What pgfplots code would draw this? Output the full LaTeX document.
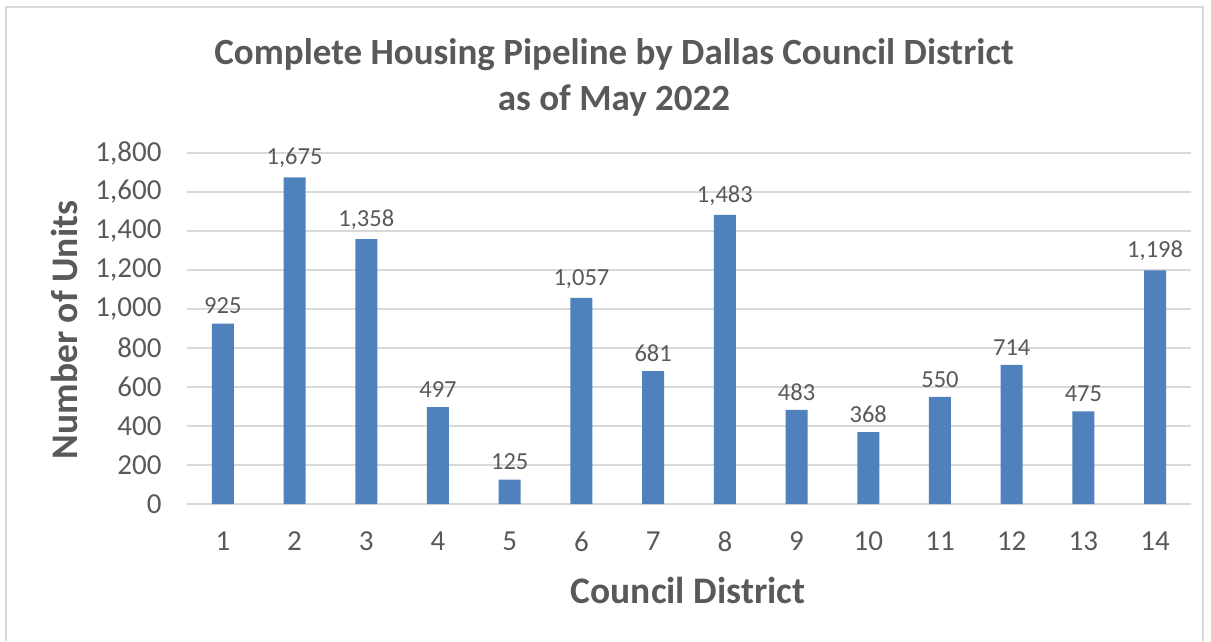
\documentclass[border=0pt]{standalone}
\usepackage{pgfplots}
\pgfplotsset{compat=1.18}
\usepackage{fontspec}
\setmainfont{Carlito}
\definecolor{barblue}{HTML}{4F81BD}
\definecolor{txt}{HTML}{595959}
\definecolor{gridc}{HTML}{D9D9D9}
\begin{document}
\begin{tikzpicture}[x=1pt,y=1pt]
\path[use as bounding box] (0,0) rectangle (1211,641);
\draw[gridc, line width=1.5pt] (6,0) -- (6,634) -- (1203,634) -- (1203,0);
\begin{axis}[
  at={(187pt,137pt)}, anchor=south west,
  scale only axis, width=1004pt, height=351pt,
  xmin=0.5, xmax=14.5, ymin=0, ymax=1800,
  ybar, bar width=22pt,
  xtick={1,...,14}, ytick={0,200,...,1800},
  axis x line*=bottom, axis y line*=left,
  x axis line style={gridc, line width=1.2pt, -},
  y axis line style={draw=none},
  ymajorgrids, grid style={gridc, line width=1.2pt},
  major tick length=0pt,
  tick label style={font=\fontsize{29}{32}\selectfont, text=txt},
  /pgf/number format/assume math mode=true,
  /pgf/number format/1000 sep={,},
  yticklabel style={xshift=-22pt},
  xticklabel style={yshift=-24pt},
  nodes near coords,
  every node near coord/.append style={font=\fontsize{24.5}{27}\selectfont, text=txt, yshift=6pt, /pgf/number format/assume math mode=true, /pgf/number format/1000 sep={,}},
  clip=false,
]
\addplot[fill=barblue, draw=none] coordinates {
(1,925) (2,1675) (3,1358) (4,497) (5,125) (6,1057) (7,681)
(8,1483) (9,483) (10,368) (11,550) (12,714) (13,475) (14,1198)};
\end{axis}
\node[text=txt, font=\fontsize{37}{46}\selectfont\bfseries, align=center] at (614,564) {Complete Housing Pipeline by Dallas Council District\\as of May 2022};
\node[text=txt, font=\fontsize{37.5}{40}\selectfont\bfseries] at (688,51) {Council District};
\node[text=txt, font=\fontsize{37.5}{40}\selectfont\bfseries, rotate=90] at (64,311) {Number of Units};
\end{tikzpicture}
\end{document}
